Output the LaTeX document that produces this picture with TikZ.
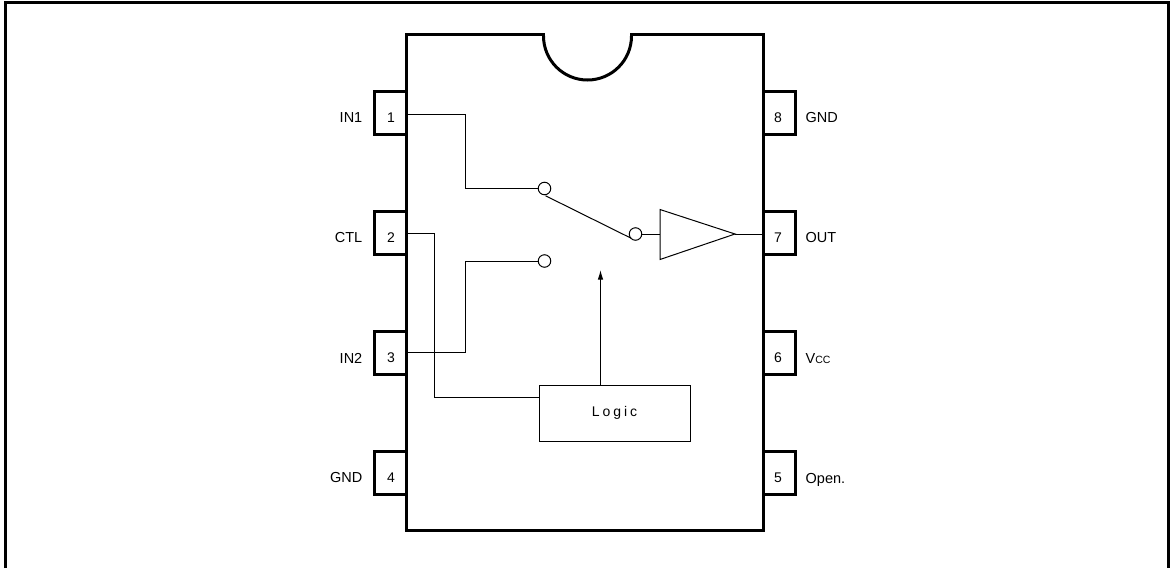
\documentclass[tikz,border=0pt]{standalone}
\usepackage{fontspec}
\setmainfont{Liberation Sans}
\usetikzlibrary{arrows.meta}
\tikzset{
  x=1pt,y=-1pt,
  heavy/.style={line width=3pt,black},
  wire/.style={line width=1pt,black},
  pinnum/.style={inner sep=0pt,font=\fontsize{14}{16}\selectfont},
  lab/.style={inner sep=0pt,font=\fontsize{14.5}{16}\selectfont},
  term/.style={circle,draw,line width=1pt,fill=white,minimum size=12.5pt,inner sep=0pt},
}
\begin{document}
\begin{tikzpicture}
\useasboundingbox (0,0) rectangle (1173,568);
% outer frame
\draw[heavy] (5.5,568) -- (5.5,2.5) -- (1168.8,2.5) -- (1168.8,568);
% package
\coordinate (nl) at (543.5,36);
\coordinate (nr) at (631.5,36);
\draw[heavy] (nl) -- (543.5,34.5) -- (406.5,34.5) -- (406.5,530) -- (763.5,530) -- (763.5,34.5) -- (631.5,34.5) -- (nr);
\draw[heavy] (nl) arc[start angle=180,end angle=0,radius=44];
% pins
\foreach \n/\yy in {1/113,2/233,3/353,4/473}{
  \node[pinnum] (p\n) at (391,\yy+5) {\n};
  \draw[heavy,line cap=rect] (406.5,\yy-21.5) -- (374.5,\yy-21.5) -- (374.5,\yy+21.5) -- (406.5,\yy+21.5);
}
\foreach \n/\yy in {8/113,7/233,6/353,5/473}{
  \node[pinnum] (p\n) at (778,\yy+5) {\n};
  \draw[heavy,line cap=rect] (763.5,\yy-21.5) -- (795.5,\yy-21.5) -- (795.5,\yy+21.5) -- (763.5,\yy+21.5);
}
% pin labels
\node[lab,anchor=east] (l1) at (362.5,118) {IN1};
\node[lab,anchor=east] (l2) at (362.5,238) {CTL};
\node[lab,anchor=east] (l3) at (362.5,358) {IN2};
\node[lab,anchor=east] (l4) at (362.5,478) {GND};
\node[lab,anchor=west] (l8) at (805.5,118) {GND};
\node[lab,anchor=west] (l7) at (805.5,238) {OUT};
\node[lab,anchor=base west] (l6) at (805.5,363) {V{\fontsize{10.5}{12}\selectfont CC}};
\node[lab,anchor=base west] (l5) at (805.5,483) {Open.};
% switch
\node[term] (t1) at (544.5,188.5) {};
\node[term] (t3) at (544.5,261) {};
\node[term] (t2) at (635.5,234) {};
\draw[wire] (t1.south) ++(1,0.5) -- ([xshift=0.5pt,yshift=0.5pt]t2.south west);
% buffer
\coordinate (b1) at (660,209.5);
\coordinate (b2) at (660,259.5);
\coordinate (b3) at (735,234);
\draw[wire,line join=miter] (b1) -- (b3) -- (b2) -- cycle;
\coordinate (bin) at (660,234);
\draw[wire] (t2) -- (bin);
\coordinate (po1) at (406,114);
\coordinate (po2) at (406,233);
\coordinate (po3) at (406,352);
\coordinate (po7) at (763,234);
\draw[wire] (b3) -- (po7);
% logic
\node[draw,line width=1pt,minimum width=151pt,minimum height=56pt,inner sep=0pt] (logic) at (614.5,413.5) {};
\node[inner sep=0pt,font=\fontsize{14}{16}\selectfont] (logictxt) at (614.5,413) {L\hspace{3pt}o\hspace{3pt}g\hspace{3pt}i\hspace{3pt}c};
% wires
\draw[wire] (po1) -- (465.5,114) -- (465.5,188.5) -- (t1);
\draw[wire] (po3) -- (465.5,352) -- (465.5,261) -- (t3);
\draw[wire] (po2) -- (434.5,233) -- (434.5,397) -- (logic.west |- 0,397);
\coordinate (arrtop) at (600.5,270);
\coordinate (arrbase) at (600.5,385.5);
\draw[wire,-{Latex[length=9.5pt,width=5.5pt]}] (arrbase) -- (arrtop);
\end{tikzpicture}
\end{document}
